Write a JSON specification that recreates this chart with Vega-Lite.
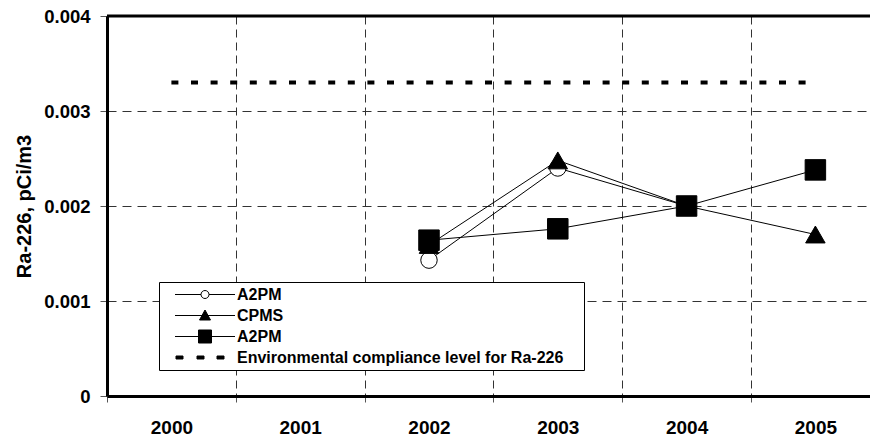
{
  "$schema": "https://vega.github.io/schema/vega-lite/v6.json",
  "width": 763,
  "height": 380,
  "autosize": {"type": "none"},
  "padding": {"left": 107, "top": 16, "right": 0, "bottom": 43},
  "background": "white",
  "config": {
    "view": {"stroke": null},
    "font": "Liberation Sans",
    "legend": {
      "orient": "none",
      "legendX": 52,
      "legendY": 266,
      "padding": 2,
      "strokeColor": "black",
      "strokeWidth": 1,
      "fillColor": "white",
      "cornerRadius": 0,
      "rowPadding": 0,
      "symbolSize": 400,
      "symbolOffset": 33.5,
      "labelOffset": 21.5,
      "labelFont": "Liberation Sans",
      "labelFontSize": 16,
      "labelFontWeight": "bold",
      "labelColor": "black",
      "labelLimit": 600,
      "symbolStrokeColor": "black",
      "symbolStrokeWidth": 1
    }
  },
  "datasets": {
    "series": [
      {"series": "A2PM (open)", "year": 2002, "value": 0.00143},
      {"series": "A2PM (open)", "year": 2003, "value": 0.0024},
      {"series": "A2PM (open)", "year": 2004, "value": 0.002},
      {"series": "CPMS", "year": 2002, "value": 0.00159},
      {"series": "CPMS", "year": 2003, "value": 0.00248},
      {"series": "CPMS", "year": 2004, "value": 0.002},
      {"series": "CPMS", "year": 2005, "value": 0.0017},
      {"series": "A2PM (filled)", "year": 2002, "value": 0.00164},
      {"series": "A2PM (filled)", "year": 2003, "value": 0.00176},
      {"series": "A2PM (filled)", "year": 2004, "value": 0.002},
      {"series": "A2PM (filled)", "year": 2005, "value": 0.00238}
    ],
    "compliance": [
      {"year": 2000, "value": 0.0033},
      {"year": 2005, "value": 0.0033}
    ],
    "frame": [{"value": 0.004}],
    "legendkeys": []
  },
  "layer": [
    {
      "data": {"name": "compliance"},
      "mark": {"type": "line", "stroke": "black", "strokeWidth": 4, "strokeDash": [7, 12.6], "strokeCap": "butt"},
      "encoding": {
        "x": {
          "field": "year", "type": "quantitative",
          "scale": {"domain": [1999.5, 2005.424], "nice": false, "zero": false},
          "axis": {
            "title": null,
            "values": [1999.5, 2000.5, 2001.5, 2002.5, 2003.5, 2004.5],
            "labelExpr": "'' + (datum.value + 0.5)",
            "labelOffset": 64.4,
            "labelFlush": false,
            "labelOverlap": false,
            "labelFont": "Liberation Sans",
            "labelFontSize": 19,
            "labelFontWeight": "bold",
            "labelColor": "black",
            "labelPadding": 16,
            "tickSize": 6,
            "tickColor": "#555",
            "domainColor": "black",
            "domainWidth": 3,
            "grid": true,
            "gridColor": "#333",
            "gridDash": [8, 5],
            "gridWidth": 1
          }
        },
        "y": {
          "field": "value", "type": "quantitative",
          "scale": {"domain": [0, 0.004], "nice": false, "zero": true},
          "axis": {
            "title": "Ra-226, pCi/m3",
            "values": [0, 0.001, 0.002, 0.003, 0.004],
            "labelExpr": "datum.value == 0 ? '0' : format(datum.value, '.3f')",
            "labelFont": "Liberation Sans",
            "labelFontSize": 18.5,
            "labelFontWeight": "bold",
            "labelColor": "black",
            "labelPadding": 10,
            "tickSize": 7,
            "tickColor": "#555",
            "domainColor": "black",
            "domainWidth": 3,
            "grid": true,
            "gridColor": "#333",
            "gridDash": [9, 6],
            "gridWidth": 1,
            "titleFont": "Liberation Sans",
            "titleFontSize": 20,
            "titleFontWeight": "bold",
            "titleColor": "black",
            "titlePadding": 9
          }
        }
      }
    },
    {
      "data": {"name": "series"},
      "mark": {"type": "line", "stroke": "black", "strokeWidth": 1},
      "encoding": {
        "x": {"field": "year", "type": "quantitative"},
        "y": {"field": "value", "type": "quantitative"},
        "detail": {"field": "series", "type": "nominal"}
      }
    },
    {
      "data": {"name": "series"},
      "transform": [{"filter": "datum.series == 'A2PM (open)'"}],
      "mark": {"type": "point", "shape": "circle", "size": 270, "filled": true, "fill": "white", "stroke": "black", "strokeWidth": 1, "opacity": 1},
      "encoding": {
        "x": {"field": "year", "type": "quantitative"},
        "y": {"field": "value", "type": "quantitative"}
      }
    },
    {
      "data": {"name": "series"},
      "transform": [{"filter": "datum.series == 'CPMS'"}],
      "mark": {"type": "point", "shape": "triangle-up", "size": 380, "filled": true, "fill": "black", "stroke": "black", "strokeWidth": 1, "opacity": 1},
      "encoding": {
        "x": {"field": "year", "type": "quantitative"},
        "y": {"field": "value", "type": "quantitative"}
      }
    },
    {
      "data": {"name": "series"},
      "transform": [{"filter": "datum.series == 'A2PM (filled)'"}],
      "mark": {"type": "point", "shape": "square", "size": 420, "filled": true, "fill": "black", "stroke": "black", "strokeWidth": 1, "opacity": 1},
      "encoding": {
        "x": {"field": "year", "type": "quantitative"},
        "y": {"field": "value", "type": "quantitative"}
      }
    },
    {
      "data": {"name": "frame"},
      "mark": {"type": "rule", "stroke": "black", "strokeWidth": 3},
      "encoding": {
        "y": {"field": "value", "type": "quantitative"}
      }
    },
    {
      "data": {"name": "legendkeys"},
      "mark": {"type": "point", "filled": true, "stroke": "black", "strokeWidth": 1, "size": 400, "opacity": 1},
      "encoding": {
        "shape": {
          "field": "key", "type": "nominal",
          "scale": {
            "domain": ["c", "t", "s", "d"],
            "range": [
              "M0,-0.83M0,0.83M-3,0H-0.4M0.4,0H3M-0.4,0A0.4,0.4,0,1,1,0.4,0A0.4,0.4,0,1,1,-0.4,0Z",
              "M0,-0.83M0,0.83M-3,0H3M0,-0.55L0.55,0.45L-0.55,0.45Z",
              "M0,-0.83M0,0.83M-3,0H3M-0.65,-0.65H0.65V0.65H-0.65Z",
              "M0,-0.83M0,0.83M37.5,0M-2.9,-0.15H-2.2V0.15H-2.9ZM-0.8,-0.15H-0.1V0.15H-0.8ZM1.2,-0.15H1.9V0.15H1.2Z"
            ]
          },
          "legend": {
            "title": null,
            "labelExpr": "datum.value == 'c' ? 'A2PM' : datum.value == 't' ? 'CPMS' : datum.value == 's' ? 'A2PM' : 'Environmental compliance level for Ra-226'"
          }
        },
        "fill": {
          "field": "key", "type": "nominal",
          "scale": {"domain": ["c", "t", "s", "d"], "range": ["white", "black", "black", "black"]},
          "legend": {
            "title": null,
            "labelExpr": "datum.value == 'c' ? 'A2PM' : datum.value == 't' ? 'CPMS' : datum.value == 's' ? 'A2PM' : 'Environmental compliance level for Ra-226'"
          }
        },
        "stroke": {
          "field": "key", "type": "nominal",
          "scale": {"domain": ["c", "t", "s", "d"], "range": ["black", "black", "black", "black"]},
          "legend": {
            "title": null,
            "labelExpr": "datum.value == 'c' ? 'A2PM' : datum.value == 't' ? 'CPMS' : datum.value == 's' ? 'A2PM' : 'Environmental compliance level for Ra-226'"
          }
        }
      }
    }
  ]
}
